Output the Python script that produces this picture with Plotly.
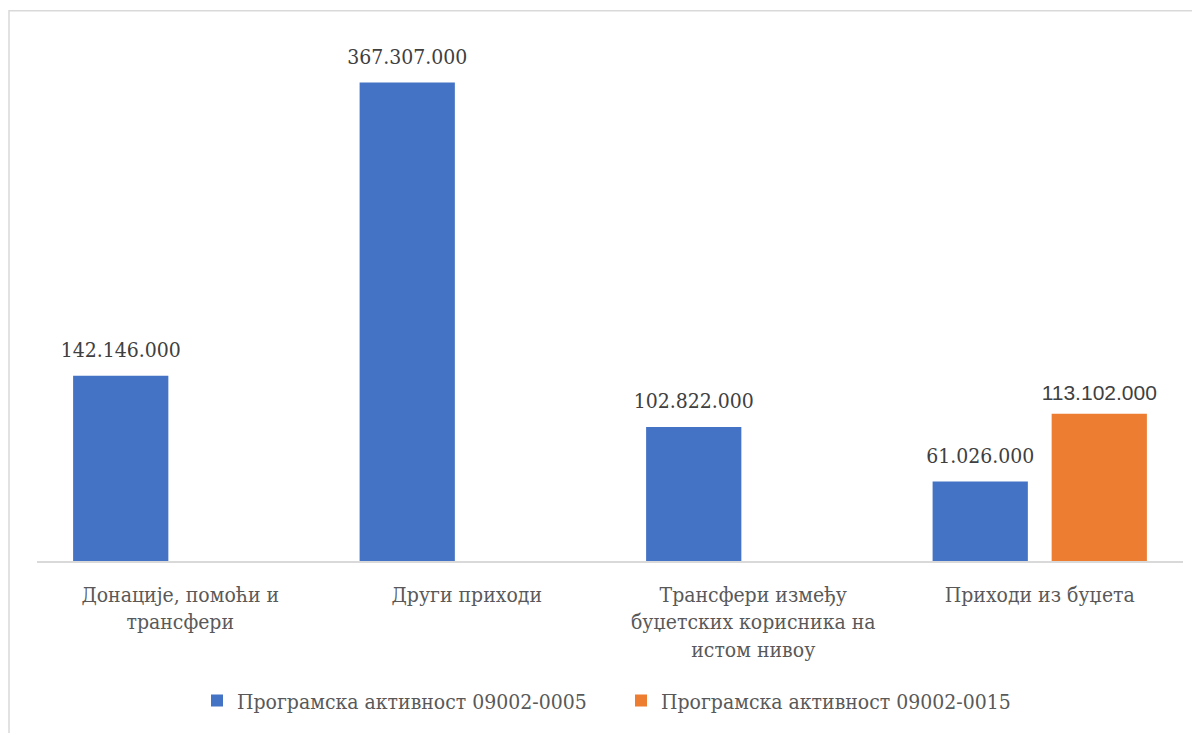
import plotly.graph_objects as go

categories = [
    "Донације, помоћи и<br>трансфери",
    "Други приходи",
    "Трансфери између<br>буџетских корисника на<br>истом нивоу",
    "Приходи из буџета",
]
series1_name = "Програмска активност 09002-0005"
series1_values = [142146000, 367307000, 102822000, 61026000]
series2_name = "Програмска активност 09002-0015"
series2_values = [None, None, None, 113102000]


def fmt(v):
    return "" if v is None else f"{v:,}".replace(",", ".")


SERIF = "DejaVu Serif Condensed"
SANS = "Liberation Sans"
GAP = 0.169

W, H = 1192, 725
ml, mr, mt, mb = 29, 17, 32, 168
pw, ph = W - ml - mr, H - mt - mb

fig = go.Figure()
fig.add_trace(go.Bar(
    x=categories, y=series1_values, name=series1_name, offsetgroup="s1",
    marker=dict(color="#4472C4", line=dict(width=0)), hoverinfo="skip",
))
fig.add_trace(go.Bar(
    x=categories, y=series2_values, name=series2_name, offsetgroup="s2",
    marker=dict(color="#ED7D31", line=dict(width=0)), hoverinfo="skip",
))
# data labels, grouped the same way as the bars
fig.add_trace(go.Scatter(
    x=categories, y=series1_values, offsetgroup="s1", mode="markers+text",
    text=[fmt(v) for v in series1_values], textposition="top center",
    textfont=dict(family=SERIF, size=21, color="#404040"),
    marker=dict(size=20, opacity=0), showlegend=False, hoverinfo="skip", cliponaxis=False,
))
fig.add_trace(go.Scatter(
    x=categories, y=series2_values, offsetgroup="s2", mode="markers+text",
    text=[fmt(v) for v in series2_values], textposition="top center",
    textfont=dict(family=SANS, size=21, color="#404040"),
    marker=dict(size=12, opacity=0), showlegend=False, hoverinfo="skip", cliponaxis=False,
))

fig.add_shape(type="rect", xref="paper", yref="paper",
              x0=(1 - ml) / pw, x1=(1191.5 - ml) / pw,
              y0=(mt + ph - 740) / ph, y1=(mt + ph - 2.5) / ph,
              line=dict(color="#D9D9D9", width=1.5), fillcolor="rgba(0,0,0,0)", layer="below")

fig.update_layout(
    width=W, height=H,
    margin=dict(l=ml, r=mr, t=mt, b=mb),
    paper_bgcolor="white", plot_bgcolor="white",
    barmode="group", bargap=GAP, bargroupgap=0.2,
    scattermode="group", scattergap=GAP,
    font=dict(family=SERIF, color="#595959"),
    showlegend=True,
    legend=dict(orientation="h", x=0.5 + 11 / pw, xanchor="center", y=(mt + ph - 698) / ph, yanchor="middle",
                font=dict(family=SERIF, size=21, color="#595959"),
                entrywidth=379, entrywidthmode="pixels", itemclick=False),
    xaxis=dict(showline=True, linecolor="#D9D9D9", linewidth=1.5, showgrid=False,
               ticks="", ticklabelstandoff=14,
               tickfont=dict(family=SERIF, size=21, color="#595959")),
    yaxis=dict(visible=False, range=[0, 400e6], showgrid=False, zeroline=False),
)

fig.write_html("out.html")
